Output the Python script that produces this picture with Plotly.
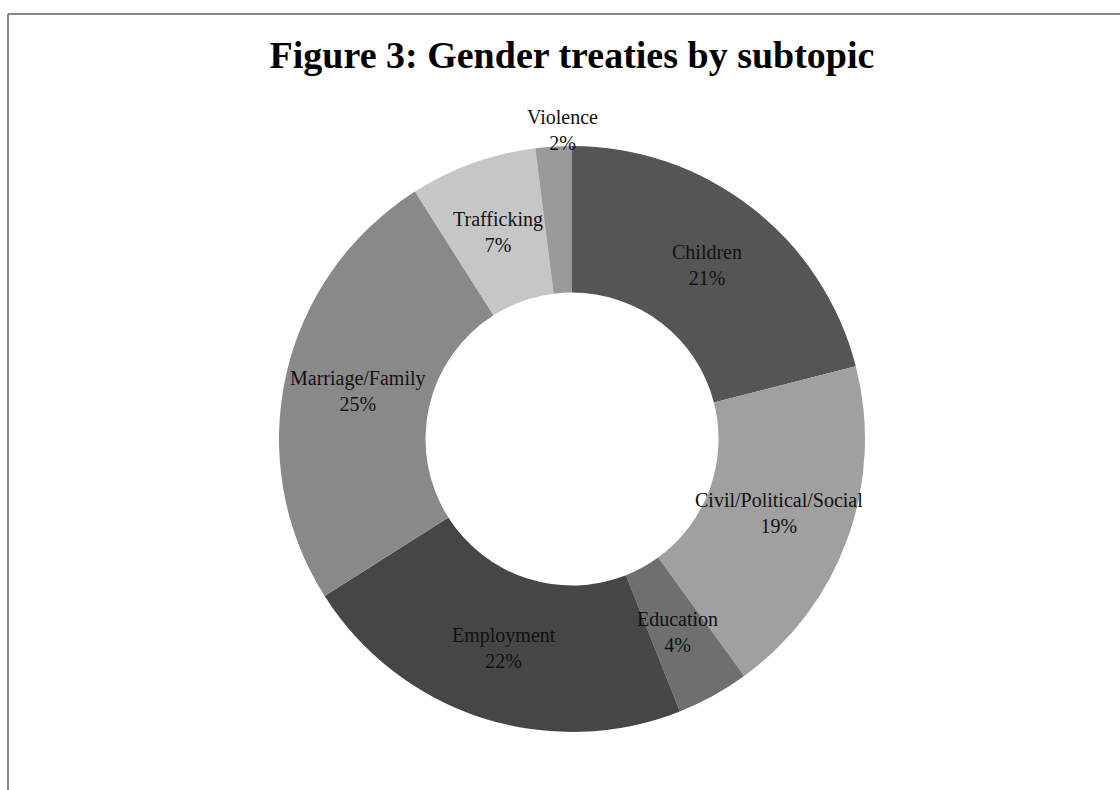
import math
import plotly.graph_objects as go

# Share of gender treaties by subtopic (percent), clockwise from 12 o'clock
subtopics = ["Children", "Civil/Political/Social", "Education", "Employment",
             "Marriage/Family", "Trafficking", "Violence"]
shares = [21, 19, 4, 22, 25, 7, 2]
slice_colors = ["#555555", "#a0a0a0", "#6f6f6f", "#464646",
                "#898989", "#c6c6c6", "#9a9a9a"]

W, H = 1120, 790
CX, CY, R = 572, 439, 293          # donut centre and outer radius (px)
HOLE = 0.5
SERIF = "Liberation Serif, Times New Roman, serif"

fig = go.Figure(go.Pie(
    labels=subtopics,
    values=shares,
    sort=False,
    direction="clockwise",
    rotation=0,
    hole=HOLE,
    textinfo="none",
    hoverinfo="label+percent",
    marker=dict(colors=slice_colors, line=dict(width=0)),
    domain=dict(x=[(CX - R) / W, (CX + R) / W],
                y=[1 - (CY + R) / H, 1 - (CY - R) / H]),
    showlegend=False,
))

# Category labels at the middle of each ring segment; tiny slices go just outside
total = sum(shares)
cum = 0
annotations = []
for name, val in zip(subtopics, shares):
    frac = val / total
    mid = (cum + frac / 2) * 2 * math.pi
    cum += frac
    r = R * (1 + HOLE) / 2 if frac >= 0.03 else R * 1.055
    x = CX + r * math.sin(mid)
    y = CY - r * math.cos(mid)
    if frac < 0.03:
        x += 10  # outside label sits centred over the slice edge
    annotations.append(dict(
        x=x / W, y=1 - y / H, xref="paper", yref="paper",
        text=f"{name}<br>{val}%", showarrow=False,
        xanchor="center", yanchor="middle",
        font=dict(family=SERIF, size=20, color="#111111"),
    ))

fig.update_layout(
    width=W, height=H,
    margin=dict(l=0, r=0, t=0, b=0),
    paper_bgcolor="white",
    plot_bgcolor="white",
    title=dict(text="<b>Figure 3: Gender treaties by subtopic</b>",
               x=CX / W, xanchor="center", y=1 - 55 / H, yanchor="middle",
               font=dict(family=SERIF, size=38, color="#000000")),
    annotations=annotations,
    shapes=[
        dict(type="line", xref="paper", yref="paper",
             x0=8 / W, x1=1, y0=1 - 14 / H, y1=1 - 14 / H,
             line=dict(color="#878787", width=2)),
        dict(type="line", xref="paper", yref="paper",
             x0=8 / W, x1=8 / W, y0=0, y1=1 - 14 / H,
             line=dict(color="#878787", width=2)),
    ],
)

fig.write_html("out.html")
